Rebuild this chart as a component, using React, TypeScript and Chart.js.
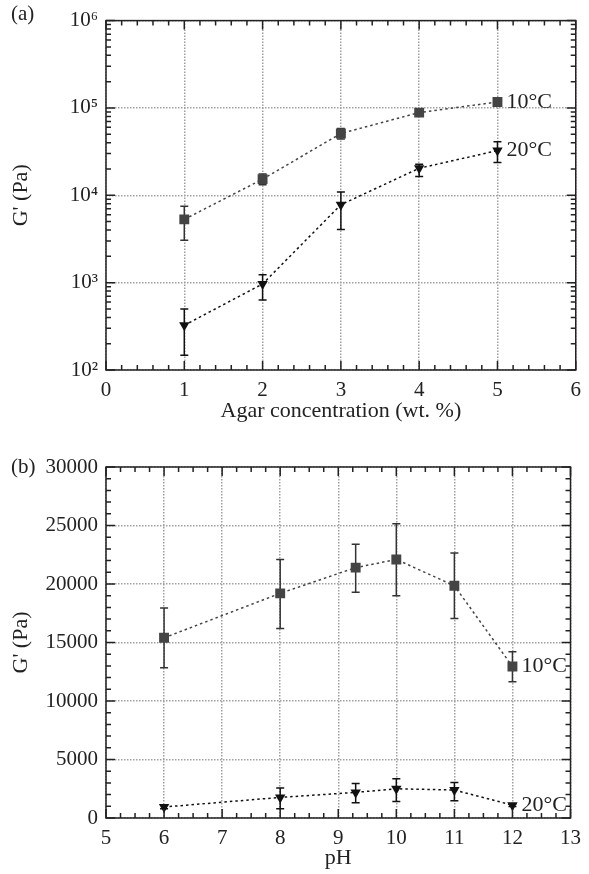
import React, { useEffect, useRef } from 'react';
import { Chart, registerables } from 'chart.js';
Chart.register(...registerables);

// ---------- Panel (a): G' vs agar concentration ----------
const agarConc = [1, 2, 3, 4, 5];
const agar10 = [5300, 15300, 51000, 88500, 117000];
const agar10Lo = [3050, 13200, 44000, 84000, 112000];
const agar10Hi = [7500, 17500, 58000, 93000, 122000];
const agar20 = [325, 966, 7800, 20400, 32500];
const agar20Lo = [148, 635, 4070, 16400, 23700];
const agar20Hi = [500, 1230, 10900, 22700, 41000];
const agarXTicks = [0, 1, 2, 3, 4, 5, 6];
const logTicks = [100, 1000, 10000, 100000, 1000000];
const logTickLabels = ['10²', '10³', '10⁴', '10⁵', '10⁶'];

// ---------- Panel (b): G' vs pH ----------
const phValues = [6, 8, 9.3, 10, 11, 12];
const ph10 = [15400, 19200, 21400, 22100, 19850, 12950];
const ph10Lo = [12850, 16200, 19300, 19000, 17050, 11650];
const ph10Hi = [17950, 22100, 23400, 25150, 22650, 14200];
const ph20 = [940, 1760, 2190, 2500, 2390, 1100];
const ph20Lo = [800, 790, 1300, 1420, 1470, 980];
const ph20Hi = [1080, 2560, 2950, 3350, 3040, 1220];
const phXTicks = [5, 6, 7, 8, 9, 10, 11, 12, 13];
const linYTicks = [0, 5000, 10000, 15000, 20000, 25000, 30000];

const seriesLabels = ['10°C', '20°C'];
const panelLabels = ['(a)', '(b)'];
const xTitles = ['Agar concentration (wt. %)', 'pH'];
const yTitle = "G' (Pa)";

const FONT = '"Liberation Serif", "Times New Roman", serif';
const GRAY = '#444';
const BLACK = '#111';

type Err = { x: number[]; lo: number[]; hi: number[]; color: string };
type Decor = {
  errors: Err[];
  xMinor: number[];
  xMajor: number[];
  yMinor: number[];
  yMajor: number[];
  labels: { x: number; y: number; text: string }[];
  panel: string;
  panelY: number;
};

function range(a: number, b: number, step: number): number[] {
  const out: number[] = [];
  const n = Math.round((b - a) / step);
  for (let i = 0; i <= n; i++) out.push(+(a + i * step).toFixed(6));
  return out;
}

function logMinor(min: number, max: number): number[] {
  const out: number[] = [];
  for (let d = min; d < max; d *= 10) {
    for (let k = 2; k <= 9; k++) out.push(k * d);
  }
  return out;
}

function makePlugin(d: Decor) {
  return {
    id: 'decor',
    beforeDatasetsDraw(chart: any) {
      const { ctx } = chart;
      const xs = chart.scales.x;
      const ys = chart.scales.y;
      d.errors.forEach((e) => {
        ctx.save();
        ctx.strokeStyle = e.color;
        ctx.lineWidth = 1.5;
        e.x.forEach((xv, i) => {
          const px = xs.getPixelForValue(xv);
          const pl = ys.getPixelForValue(e.lo[i]);
          const ph = ys.getPixelForValue(e.hi[i]);
          ctx.beginPath();
          ctx.moveTo(px, pl);
          ctx.lineTo(px, ph);
          ctx.moveTo(px - 4, pl);
          ctx.lineTo(px + 4, pl);
          ctx.moveTo(px - 4, ph);
          ctx.lineTo(px + 4, ph);
          ctx.stroke();
        });
        ctx.restore();
      });
    },
    afterDraw(chart: any) {
      const { ctx, chartArea: a } = chart;
      const xs = chart.scales.x;
      const ys = chart.scales.y;
      ctx.save();
      ctx.strokeStyle = '#222';
      ctx.lineWidth = 1.5;
      ctx.strokeRect(a.left, a.top, a.right - a.left, a.bottom - a.top);
      ctx.beginPath();
      const tickX = (v: number, len: number) => {
        const p = xs.getPixelForValue(v);
        ctx.moveTo(p, a.bottom);
        ctx.lineTo(p, a.bottom - len);
        ctx.moveTo(p, a.top);
        ctx.lineTo(p, a.top + len);
      };
      const tickY = (v: number, len: number) => {
        const p = ys.getPixelForValue(v);
        ctx.moveTo(a.left, p);
        ctx.lineTo(a.left + len, p);
        ctx.moveTo(a.right, p);
        ctx.lineTo(a.right - len, p);
      };
      d.xMinor.forEach((v) => tickX(v, 5));
      d.xMajor.forEach((v) => tickX(v, 9));
      d.yMinor.forEach((v) => tickY(v, 5));
      d.yMajor.forEach((v) => tickY(v, 9));
      ctx.stroke();
      ctx.fillStyle = '#222';
      ctx.font = `22px ${FONT}`;
      ctx.textBaseline = 'middle';
      ctx.textAlign = 'left';
      d.labels.forEach((l) => {
        ctx.fillText(l.text, xs.getPixelForValue(l.x) + 9, ys.getPixelForValue(l.y));
      });
      ctx.font = `21px ${FONT}`;
      ctx.fillText(d.panel, 11, d.panelY);
      ctx.restore();
    },
  };
}

function baseDataset(xs: number[], ys: number[], color: string, style: string, radius: number, rotation: number) {
  return {
    data: xs.map((x, i) => ({ x, y: ys[i] })),
    showLine: true,
    borderColor: color,
    backgroundColor: color,
    borderWidth: 1.5,
    borderDash: [2.5, 3],
    pointStyle: style,
    pointRadius: radius,
    pointRotation: rotation,
    pointBorderWidth: 0,
    pointBackgroundColor: color,
    tension: 0,
    fill: false,
  };
}

function axisCommon() {
  return {
    grid: { color: '#a0a0a0', lineWidth: 1.5, drawTicks: false },
    border: { display: false, dash: [1.5, 1.5] },
    ticks: { font: { family: FONT, size: 21 }, color: '#222', padding: 8, autoSkip: false, maxRotation: 0 },
  };
}

function buildChart(canvas: HTMLCanvasElement, panel: 0 | 1) {
  const isA = panel === 0;
  const xs = isA ? agarConc : phValues;
  const s10 = isA ? agar10 : ph10;
  const s20 = isA ? agar20 : ph20;
  const xTicks = isA ? agarXTicks : phXTicks;
  const yTicks = isA ? logTicks : linYTicks;
  const topPad = isA ? 18 : 30;
  const xAxisH = isA ? 67 : 56;
  const decor: Decor = {
    errors: [
      { x: xs, lo: isA ? agar10Lo : ph10Lo, hi: isA ? agar10Hi : ph10Hi, color: '#333' },
      { x: xs, lo: isA ? agar20Lo : ph20Lo, hi: isA ? agar20Hi : ph20Hi, color: BLACK },
    ],
    xMinor: isA ? range(0, 6, 0.2) : range(5, 13, 0.25),
    xMajor: xTicks,
    yMinor: isA ? logMinor(100, 1000000) : range(0, 30000, 1000),
    yMajor: yTicks,
    labels: [
      { x: xs[xs.length - 1], y: s10[s10.length - 1], text: seriesLabels[0] },
      { x: xs[xs.length - 1], y: s20[s20.length - 1], text: seriesLabels[1] },
    ],
    panel: panelLabels[panel],
    panelY: isA ? 14 : 30,
  };
  const xc = axisCommon();
  const yc = axisCommon();
  return new Chart(canvas, {
    type: 'scatter',
    data: {
      datasets: [
        baseDataset(xs, s10, GRAY, 'rect', 7, 0),
        baseDataset(xs, s20, BLACK, 'triangle', 6, 180),
      ] as any,
    },
    options: {
      animation: false,
      responsive: false,
      layout: { padding: { left: 0, right: 13, top: topPad, bottom: 0 } },
      plugins: { legend: { display: false }, tooltip: { enabled: false } },
      scales: {
        x: {
          type: 'linear',
          min: xTicks[0],
          max: xTicks[xTicks.length - 1],
          ...xc,
          ticks: { ...xc.ticks, stepSize: 1 },
          afterBuildTicks: (s: any) => {
            s.ticks = xTicks.map((v) => ({ value: v }));
          },
          afterFit: (s: any) => {
            s.height = xAxisH;
          },
          title: {
            display: true,
            text: xTitles[panel],
            font: { family: FONT, size: 22 },
            color: '#222',
            padding: { top: 0, bottom: isA ? 13 : 3 },
          },
        },
        y: {
          type: isA ? 'logarithmic' : 'linear',
          min: yTicks[0],
          max: yTicks[yTicks.length - 1],
          ...yc,
          ticks: {
            ...yc.ticks,
            callback: (v: any) => {
              const i = yTicks.indexOf(Number(v));
              if (i < 0) return '';
              return isA ? logTickLabels[i] : String(yTicks[i]);
            },
          },
          afterBuildTicks: (s: any) => {
            s.ticks = yTicks.map((v) => ({ value: v }));
          },
          afterFit: (s: any) => {
            s.width = 106;
          },
          title: {
            display: true,
            text: yTitle,
            font: { family: FONT, size: 22 },
            color: '#222',
            padding: { top: 8, bottom: 0 },
          },
        },
      },
    } as any,
    plugins: [makePlugin(decor)],
  });
}

function Panel({ index, top }: { index: 0 | 1; top: number }) {
  const ref = useRef<HTMLCanvasElement>(null);
  useEffect(() => {
    if (!ref.current) return;
    const c = buildChart(ref.current, index);
    return () => c.destroy();
  }, [index]);
  return (
    <canvas
      ref={ref}
      width={589}
      height={437}
      style={{ position: 'absolute', left: 0, top, width: 589, height: 437, display: 'block' }}
    />
  );
}

export default function App() {
  return (
    <div style={{ position: 'absolute', left: 0, top: 0, width: 589, height: 874, background: '#fff' }}>
      <Panel index={0} top={0} />
      <Panel index={1} top={437} />
    </div>
  );
}
